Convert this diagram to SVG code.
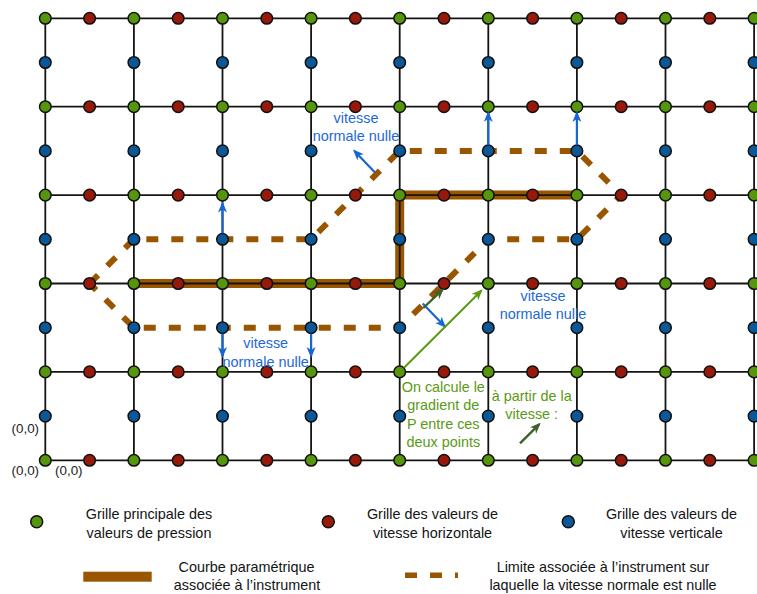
<svg xmlns="http://www.w3.org/2000/svg" width="757" height="594" viewBox="0 0 757 594">
<style>
.grid line{stroke:#141414;stroke-width:1.8}
.p{fill:#56960c;stroke:#111;stroke-width:1.5}
.u{fill:#98180a;stroke:#111;stroke-width:1.5}
.v{fill:#0a5898;stroke:#111;stroke-width:1.5}
text{font-family:"Liberation Sans",Arial,sans-serif;font-size:14.4px;text-anchor:middle}
.lg{fill:#141414}
.bl{fill:#1d68d8}
.gr{fill:#5a9a14}
.oo{fill:#222;font-size:13.4px;text-anchor:start}
.ba{stroke:#1766d6;stroke-width:2.2;fill:none;marker-end:url(#mb)}
.dg{stroke:#40602c;stroke-width:2.4;fill:none;marker-end:url(#md)}
.ga{stroke:#5a9a14;stroke-width:2;fill:none;marker-end:url(#mg)}
.dash{fill:none;stroke:#9a5500;stroke-width:6;stroke-dasharray:12 13}
</style>
<defs>
<marker id="mb" markerUnits="userSpaceOnUse" markerWidth="12" markerHeight="10" refX="9" refY="4.5" orient="auto"><path d="M11,4.5 L0,0 L3,4.5 L0,9 Z" fill="#1766d6"/></marker>
<marker id="md" markerUnits="userSpaceOnUse" markerWidth="12" markerHeight="10" refX="9" refY="4.5" orient="auto"><path d="M11,4.5 L0,0 L3,4.5 L0,9 Z" fill="#40602c"/></marker>
<marker id="mg" markerUnits="userSpaceOnUse" markerWidth="12" markerHeight="10" refX="9" refY="4.5" orient="auto"><path d="M11,4.5 L0,0 L3,4.5 L0,9 Z" fill="#5a9a14"/></marker>
</defs>
<rect width="757" height="594" fill="#fff"/>
<polyline id="courbe" points="133.9,283.5 399.7,283.5 399.7,195.1 576.9,195.1" fill="none" stroke="#9a5500" stroke-width="9" stroke-linejoin="miter"/>
<g class="grid">
<line x1="45.3" y1="18.3" x2="757" y2="18.3"/>
<line x1="45.3" y1="106.7" x2="757" y2="106.7"/>
<line x1="45.3" y1="195.1" x2="757" y2="195.1"/>
<line x1="45.3" y1="283.5" x2="757" y2="283.5"/>
<line x1="45.3" y1="371.9" x2="757" y2="371.9"/>
<line x1="45.3" y1="460.3" x2="757" y2="460.3"/>
<line x1="45.3" y1="18.3" x2="45.3" y2="460.3"/>
<line x1="133.9" y1="18.3" x2="133.9" y2="460.3"/>
<line x1="222.5" y1="18.3" x2="222.5" y2="460.3"/>
<line x1="311.1" y1="18.3" x2="311.1" y2="460.3"/>
<line x1="399.7" y1="18.3" x2="399.7" y2="460.3"/>
<line x1="488.3" y1="18.3" x2="488.3" y2="460.3"/>
<line x1="576.9" y1="18.3" x2="576.9" y2="460.3"/>
<line x1="665.5" y1="18.3" x2="665.5" y2="460.3"/>
<line x1="754.1" y1="18.3" x2="754.1" y2="460.3"/>
</g>
<polygon id="limite" class="dash" points="89.6,283.5 133.9,239.3 311.1,239.3 399.7,150.9 576.9,150.9 621.2,195.1 576.9,239.3 488.3,239.3 399.7,327.7 133.9,327.7"/>
<g id="nodes">
<g id="p0_0"><circle class="p" cx="45.3" cy="18.3" r="5.8"/></g><g id="p1_0"><circle class="p" cx="133.9" cy="18.3" r="5.8"/></g><g id="p2_0"><circle class="p" cx="222.5" cy="18.3" r="5.8"/></g><g id="p3_0"><circle class="p" cx="311.1" cy="18.3" r="5.8"/></g><g id="p4_0"><circle class="p" cx="399.7" cy="18.3" r="5.8"/></g><g id="p5_0"><circle class="p" cx="488.3" cy="18.3" r="5.8"/></g><g id="p6_0"><circle class="p" cx="576.9" cy="18.3" r="5.8"/></g><g id="p7_0"><circle class="p" cx="665.5" cy="18.3" r="5.8"/></g><g id="p8_0"><circle class="p" cx="754.1" cy="18.3" r="5.8"/></g>
<g id="p0_1"><circle class="p" cx="45.3" cy="106.7" r="5.8"/></g><g id="p1_1"><circle class="p" cx="133.9" cy="106.7" r="5.8"/></g><g id="p2_1"><circle class="p" cx="222.5" cy="106.7" r="5.8"/></g><g id="p3_1"><circle class="p" cx="311.1" cy="106.7" r="5.8"/></g><g id="p4_1"><circle class="p" cx="399.7" cy="106.7" r="5.8"/></g><g id="p5_1"><circle class="p" cx="488.3" cy="106.7" r="5.8"/></g><g id="p6_1"><circle class="p" cx="576.9" cy="106.7" r="5.8"/></g><g id="p7_1"><circle class="p" cx="665.5" cy="106.7" r="5.8"/></g><g id="p8_1"><circle class="p" cx="754.1" cy="106.7" r="5.8"/></g>
<g id="p0_2"><circle class="p" cx="45.3" cy="195.1" r="5.8"/></g><g id="p1_2"><circle class="p" cx="133.9" cy="195.1" r="5.8"/></g><g id="p2_2"><circle class="p" cx="222.5" cy="195.1" r="5.8"/></g><g id="p3_2"><circle class="p" cx="311.1" cy="195.1" r="5.8"/></g><g id="p4_2"><circle class="p" cx="399.7" cy="195.1" r="5.8"/></g><g id="p5_2"><circle class="p" cx="488.3" cy="195.1" r="5.8"/></g><g id="p6_2"><circle class="p" cx="576.9" cy="195.1" r="5.8"/></g><g id="p7_2"><circle class="p" cx="665.5" cy="195.1" r="5.8"/></g><g id="p8_2"><circle class="p" cx="754.1" cy="195.1" r="5.8"/></g>
<g id="p0_3"><circle class="p" cx="45.3" cy="283.5" r="5.8"/></g><g id="p1_3"><circle class="p" cx="133.9" cy="283.5" r="5.8"/></g><g id="p2_3"><circle class="p" cx="222.5" cy="283.5" r="5.8"/></g><g id="p3_3"><circle class="p" cx="311.1" cy="283.5" r="5.8"/></g><g id="p4_3"><circle class="p" cx="399.7" cy="283.5" r="5.8"/></g><g id="p5_3"><circle class="p" cx="488.3" cy="283.5" r="5.8"/></g><g id="p6_3"><circle class="p" cx="576.9" cy="283.5" r="5.8"/></g><g id="p7_3"><circle class="p" cx="665.5" cy="283.5" r="5.8"/></g><g id="p8_3"><circle class="p" cx="754.1" cy="283.5" r="5.8"/></g>
<g id="p0_4"><circle class="p" cx="45.3" cy="371.9" r="5.8"/></g><g id="p1_4"><circle class="p" cx="133.9" cy="371.9" r="5.8"/></g><g id="p2_4"><circle class="p" cx="222.5" cy="371.9" r="5.8"/></g><g id="p3_4"><circle class="p" cx="311.1" cy="371.9" r="5.8"/></g><g id="p4_4"><circle class="p" cx="399.7" cy="371.9" r="5.8"/></g><g id="p5_4"><circle class="p" cx="488.3" cy="371.9" r="5.8"/></g><g id="p6_4"><circle class="p" cx="576.9" cy="371.9" r="5.8"/></g><g id="p7_4"><circle class="p" cx="665.5" cy="371.9" r="5.8"/></g><g id="p8_4"><circle class="p" cx="754.1" cy="371.9" r="5.8"/></g>
<g id="p0_5"><circle class="p" cx="45.3" cy="460.3" r="5.8"/></g><g id="p1_5"><circle class="p" cx="133.9" cy="460.3" r="5.8"/></g><g id="p2_5"><circle class="p" cx="222.5" cy="460.3" r="5.8"/></g><g id="p3_5"><circle class="p" cx="311.1" cy="460.3" r="5.8"/></g><g id="p4_5"><circle class="p" cx="399.7" cy="460.3" r="5.8"/></g><g id="p5_5"><circle class="p" cx="488.3" cy="460.3" r="5.8"/></g><g id="p6_5"><circle class="p" cx="576.9" cy="460.3" r="5.8"/></g><g id="p7_5"><circle class="p" cx="665.5" cy="460.3" r="5.8"/></g><g id="p8_5"><circle class="p" cx="754.1" cy="460.3" r="5.8"/></g>
<g id="u0_0"><circle class="u" cx="89.6" cy="18.3" r="5.8"/></g><g id="u1_0"><circle class="u" cx="178.2" cy="18.3" r="5.8"/></g><g id="u2_0"><circle class="u" cx="266.8" cy="18.3" r="5.8"/></g><g id="u3_0"><circle class="u" cx="355.4" cy="18.3" r="5.8"/></g><g id="u4_0"><circle class="u" cx="444" cy="18.3" r="5.8"/></g><g id="u5_0"><circle class="u" cx="532.6" cy="18.3" r="5.8"/></g><g id="u6_0"><circle class="u" cx="621.2" cy="18.3" r="5.8"/></g><g id="u7_0"><circle class="u" cx="709.8" cy="18.3" r="5.8"/></g>
<g id="u0_1"><circle class="u" cx="89.6" cy="106.7" r="5.8"/></g><g id="u1_1"><circle class="u" cx="178.2" cy="106.7" r="5.8"/></g><g id="u2_1"><circle class="u" cx="266.8" cy="106.7" r="5.8"/></g><g id="u3_1"><circle class="u" cx="355.4" cy="106.7" r="5.8"/></g><g id="u4_1"><circle class="u" cx="444" cy="106.7" r="5.8"/></g><g id="u5_1"><circle class="u" cx="532.6" cy="106.7" r="5.8"/></g><g id="u6_1"><circle class="u" cx="621.2" cy="106.7" r="5.8"/></g><g id="u7_1"><circle class="u" cx="709.8" cy="106.7" r="5.8"/></g>
<g id="u0_2"><circle class="u" cx="89.6" cy="195.1" r="5.8"/></g><g id="u1_2"><circle class="u" cx="178.2" cy="195.1" r="5.8"/></g><g id="u2_2"><circle class="u" cx="266.8" cy="195.1" r="5.8"/></g><g id="u3_2"><circle class="u" cx="355.4" cy="195.1" r="5.8"/></g><g id="u4_2"><circle class="u" cx="444" cy="195.1" r="5.8"/></g><g id="u5_2"><circle class="u" cx="532.6" cy="195.1" r="5.8"/></g><g id="u6_2"><circle class="u" cx="621.2" cy="195.1" r="5.8"/></g><g id="u7_2"><circle class="u" cx="709.8" cy="195.1" r="5.8"/></g>
<g id="u0_3"><circle class="u" cx="89.6" cy="283.5" r="5.8"/></g><g id="u1_3"><circle class="u" cx="178.2" cy="283.5" r="5.8"/></g><g id="u2_3"><circle class="u" cx="266.8" cy="283.5" r="5.8"/></g><g id="u3_3"><circle class="u" cx="355.4" cy="283.5" r="5.8"/></g><g id="u4_3"><circle class="u" cx="444" cy="283.5" r="5.8"/></g><g id="u5_3"><circle class="u" cx="532.6" cy="283.5" r="5.8"/></g><g id="u6_3"><circle class="u" cx="621.2" cy="283.5" r="5.8"/></g><g id="u7_3"><circle class="u" cx="709.8" cy="283.5" r="5.8"/></g>
<g id="u0_4"><circle class="u" cx="89.6" cy="371.9" r="5.8"/></g><g id="u1_4"><circle class="u" cx="178.2" cy="371.9" r="5.8"/></g><g id="u2_4"><circle class="u" cx="266.8" cy="371.9" r="5.8"/></g><g id="u3_4"><circle class="u" cx="355.4" cy="371.9" r="5.8"/></g><g id="u4_4"><circle class="u" cx="444" cy="371.9" r="5.8"/></g><g id="u5_4"><circle class="u" cx="532.6" cy="371.9" r="5.8"/></g><g id="u6_4"><circle class="u" cx="621.2" cy="371.9" r="5.8"/></g><g id="u7_4"><circle class="u" cx="709.8" cy="371.9" r="5.8"/></g>
<g id="u0_5"><circle class="u" cx="89.6" cy="460.3" r="5.8"/></g><g id="u1_5"><circle class="u" cx="178.2" cy="460.3" r="5.8"/></g><g id="u2_5"><circle class="u" cx="266.8" cy="460.3" r="5.8"/></g><g id="u3_5"><circle class="u" cx="355.4" cy="460.3" r="5.8"/></g><g id="u4_5"><circle class="u" cx="444" cy="460.3" r="5.8"/></g><g id="u5_5"><circle class="u" cx="532.6" cy="460.3" r="5.8"/></g><g id="u6_5"><circle class="u" cx="621.2" cy="460.3" r="5.8"/></g><g id="u7_5"><circle class="u" cx="709.8" cy="460.3" r="5.8"/></g>
<g id="v0_0"><circle class="v" cx="45.3" cy="62.5" r="5.8"/></g><g id="v1_0"><circle class="v" cx="133.9" cy="62.5" r="5.8"/></g><g id="v2_0"><circle class="v" cx="222.5" cy="62.5" r="5.8"/></g><g id="v3_0"><circle class="v" cx="311.1" cy="62.5" r="5.8"/></g><g id="v4_0"><circle class="v" cx="399.7" cy="62.5" r="5.8"/></g><g id="v5_0"><circle class="v" cx="488.3" cy="62.5" r="5.8"/></g><g id="v6_0"><circle class="v" cx="576.9" cy="62.5" r="5.8"/></g><g id="v7_0"><circle class="v" cx="665.5" cy="62.5" r="5.8"/></g><g id="v8_0"><circle class="v" cx="754.1" cy="62.5" r="5.8"/></g>
<g id="v0_1"><circle class="v" cx="45.3" cy="150.9" r="5.8"/></g><g id="v1_1"><circle class="v" cx="133.9" cy="150.9" r="5.8"/></g><g id="v2_1"><circle class="v" cx="222.5" cy="150.9" r="5.8"/></g><g id="v3_1"><circle class="v" cx="311.1" cy="150.9" r="5.8"/></g><g id="v4_1"><circle class="v" cx="399.7" cy="150.9" r="5.8"/></g><g id="v5_1"><circle class="v" cx="488.3" cy="150.9" r="5.8"/></g><g id="v6_1"><circle class="v" cx="576.9" cy="150.9" r="5.8"/></g><g id="v7_1"><circle class="v" cx="665.5" cy="150.9" r="5.8"/></g><g id="v8_1"><circle class="v" cx="754.1" cy="150.9" r="5.8"/></g>
<g id="v0_2"><circle class="v" cx="45.3" cy="239.3" r="5.8"/></g><g id="v1_2"><circle class="v" cx="133.9" cy="239.3" r="5.8"/></g><g id="v2_2"><circle class="v" cx="222.5" cy="239.3" r="5.8"/></g><g id="v3_2"><circle class="v" cx="311.1" cy="239.3" r="5.8"/></g><g id="v4_2"><circle class="v" cx="399.7" cy="239.3" r="5.8"/></g><g id="v5_2"><circle class="v" cx="488.3" cy="239.3" r="5.8"/></g><g id="v6_2"><circle class="v" cx="576.9" cy="239.3" r="5.8"/></g><g id="v7_2"><circle class="v" cx="665.5" cy="239.3" r="5.8"/></g><g id="v8_2"><circle class="v" cx="754.1" cy="239.3" r="5.8"/></g>
<g id="v0_3"><circle class="v" cx="45.3" cy="327.7" r="5.8"/></g><g id="v1_3"><circle class="v" cx="133.9" cy="327.7" r="5.8"/></g><g id="v2_3"><circle class="v" cx="222.5" cy="327.7" r="5.8"/></g><g id="v3_3"><circle class="v" cx="311.1" cy="327.7" r="5.8"/></g><g id="v4_3"><circle class="v" cx="399.7" cy="327.7" r="5.8"/></g><g id="v5_3"><circle class="v" cx="488.3" cy="327.7" r="5.8"/></g><g id="v6_3"><circle class="v" cx="576.9" cy="327.7" r="5.8"/></g><g id="v7_3"><circle class="v" cx="665.5" cy="327.7" r="5.8"/></g><g id="v8_3"><circle class="v" cx="754.1" cy="327.7" r="5.8"/></g>
<g id="v0_4"><circle class="v" cx="45.3" cy="416.1" r="5.8"/></g><g id="v1_4"><circle class="v" cx="133.9" cy="416.1" r="5.8"/></g><g id="v2_4"><circle class="v" cx="222.5" cy="416.1" r="5.8"/></g><g id="v3_4"><circle class="v" cx="311.1" cy="416.1" r="5.8"/></g><g id="v4_4"><circle class="v" cx="399.7" cy="416.1" r="5.8"/></g><g id="v5_4"><circle class="v" cx="488.3" cy="416.1" r="5.8"/></g><g id="v6_4"><circle class="v" cx="576.9" cy="416.1" r="5.8"/></g><g id="v7_4"><circle class="v" cx="665.5" cy="416.1" r="5.8"/></g><g id="v8_4"><circle class="v" cx="754.1" cy="416.1" r="5.8"/></g>
</g>
<g id="connectors">
<line class="ba" x1="222.5" y1="233.3" x2="222.5" y2="203.5"/>
<line class="ba" x1="488.3" y1="144.9" x2="488.3" y2="113"/>
<line class="ba" x1="576.9" y1="144.9" x2="576.9" y2="113"/>
<line class="ba" x1="222.5" y1="333.7" x2="222.5" y2="356"/>
<line class="ba" x1="311.1" y1="333.7" x2="311.1" y2="356"/>
<line class="ba" x1="375" y1="172.5" x2="354.4" y2="150.9"/>
<line class="ba" x1="422.7" y1="303.5" x2="444.6" y2="326.3"/>
<line class="dg" x1="423.3" y1="308" x2="442.6" y2="289.7"/>
<line class="dg" x1="520" y1="443.3" x2="539.3" y2="424.1"/>
<line class="ga" x1="404" y1="367.8" x2="481.3" y2="290.7"/>
</g>
<g id="labels">
<text class="bl" x="356" y="122.5">vitesse</text>
<text class="bl" x="356" y="141.2">normale nulle</text>
<text class="bl" x="265.7" y="347.8">vitesse</text>
<text class="bl" x="265.7" y="366.5">normale nulle</text>
<text class="bl" x="543" y="300.5">vitesse</text>
<text class="bl" x="543" y="318.8">normale nulle</text>
<text class="gr" x="443.3" y="392">On calcule le</text>
<text class="gr" x="443.3" y="410.4">gradient de</text>
<text class="gr" x="443.3" y="428.8">P entre ces</text>
<text class="gr" x="443.3" y="447.2">deux points</text>
<text class="gr" x="531.7" y="400.5">à partir de la</text>
<text class="gr" x="531.7" y="418.8">vitesse :</text>
<text class="oo" x="11.5" y="432.5">(0,0)</text>
<text class="oo" x="11.5" y="474.8">(0,0)</text>
<text class="oo" x="55" y="474.8">(0,0)</text>
</g>
<g id="legend">
<g id="leg-p"><circle class="p" cx="36.7" cy="521.7" r="6"/><text class="lg" x="149" y="519">Grille principale des</text><text class="lg" x="149" y="537.5">valeurs de pression</text></g>
<g id="leg-u"><circle class="u" cx="328.3" cy="521.7" r="6"/><text class="lg" x="432.5" y="519">Grille des valeurs de</text><text class="lg" x="432.5" y="537.5">vitesse horizontale</text></g>
<g id="leg-v"><circle class="v" cx="568.3" cy="521.7" r="6"/><text class="lg" x="671.5" y="519">Grille des valeurs de</text><text class="lg" x="671.5" y="537.5">vitesse verticale</text></g>
<g id="leg-courbe"><rect x="83.3" y="571.7" width="68.4" height="10" fill="#9a5500"/><text class="lg" x="246.5" y="572">Courbe paramétrique</text><text class="lg" x="247" y="589.5">associée à l’instrument</text></g>
<g id="leg-limite"><line class="dash" x1="405" y1="575.2" x2="458" y2="575.2" style="stroke-width:5.5"/><text class="lg" x="603" y="572">Limite associée à l’instrument sur</text><text class="lg" x="603" y="589.5">laquelle la vitesse normale est nulle</text></g>
</g>
</svg>
